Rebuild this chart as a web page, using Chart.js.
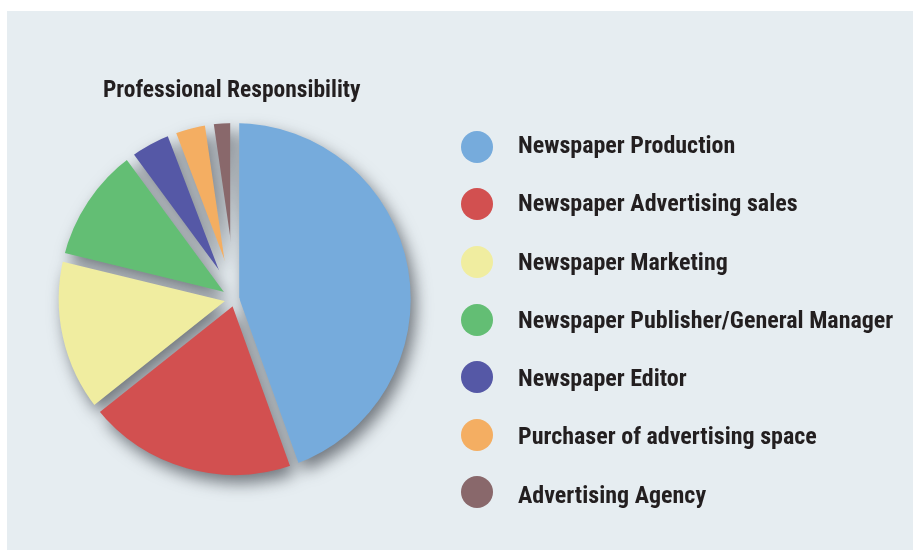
<!DOCTYPE html>
<html>
<head>
<meta charset="utf-8">
<title>Professional Responsibility</title>
<script src="https://cdn.jsdelivr.net/npm/chart.js@4.4.1/dist/chart.umd.min.js"></script>
<style>
    body { margin: 0; background: #ffffff; }
    #wrap { position: relative; width: 913px; height: 550px; overflow: hidden; }
    #pie { position: absolute; left: 0; top: 0; }
    .txt {
        position: absolute;
        font-family: Roboto, 'Open Sans', sans-serif;
        font-weight: 700;
        font-stretch: 75%;
        color: #231f20;
        white-space: nowrap;
    }
    #title { left: 103px; top: 77.5px; font-size: 23.5px; line-height: 23.5px; }
    .legend-item { font-size: 24px; line-height: 24px; left: 518px; }
    .dot { position: absolute; width: 32px; height: 32px; border-radius: 50%; left: 461px; }
</style>
</head>
<body>
<div id="wrap">
    <canvas id="pie" width="913" height="550"></canvas>
    <div id="title" class="txt">Professional Responsibility</div>
    <div id="legend"></div>
</div>
<script>
// share of respondents by professional responsibility (%)
const categories = [
    'Newspaper Production',
    'Newspaper Advertising sales',
    'Newspaper Marketing',
    'Newspaper Publisher/General Manager',
    'Newspaper Editor',
    'Purchaser of advertising space',
    'Advertising Agency'
];
const shares = [44.5, 19.8, 14.5, 11.1, 4.3, 3.5, 2.3];
const sliceColors = ['#76abdc', '#d25050', '#f0eda0', '#63be74', '#5558a6', '#f4ae62', '#89686b'];

const PANEL = '#e6edf1';
const GAP = 9; // width of the channel between slices

// light panel behind everything
const panelBg = {
    id: 'panelBg',
    beforeDraw(chart) {
        const ctx = chart.ctx;
        ctx.save();
        ctx.fillStyle = PANEL;
        ctx.fillRect(7, 11, chart.width - 7, chart.height - 11);
        ctx.restore();
    }
};

// draw slices on a scratch canvas, cut the gaps out, then paste with a drop shadow
const splitPie = {
    id: 'splitPie',
    beforeDatasetsDraw(chart) {
        const meta = chart.getDatasetMeta(0);
        const dpr = chart.currentDevicePixelRatio;
        const off = document.createElement('canvas');
        off.width = chart.canvas.width;
        off.height = chart.canvas.height;
        const octx = off.getContext('2d');
        octx.scale(dpr, dpr);
        meta.data.forEach(arc => arc.draw(octx));

        octx.globalCompositeOperation = 'destination-out';
        octx.lineWidth = GAP;
        octx.lineCap = 'round';
        meta.data.forEach(arc => {
            const a = arc.startAngle;
            const r = arc.outerRadius + 20;
            octx.beginPath();
            octx.moveTo(arc.x, arc.y);
            octx.lineTo(arc.x + Math.cos(a) * r, arc.y + Math.sin(a) * r);
            octx.stroke();
        });

        const ctx = chart.ctx;
        ctx.save();
        ctx.shadowColor = 'rgba(35, 40, 48, 0.6)';
        ctx.shadowBlur = 16;
        ctx.shadowOffsetX = 5;
        ctx.shadowOffsetY = 8;
        ctx.drawImage(off, 0, 0, chart.width, chart.height);
        ctx.restore();
        return false;
    }
};

new Chart(document.getElementById('pie'), {
    type: 'pie',
    data: {
        labels: categories,
        datasets: [{
            data: shares,
            backgroundColor: sliceColors,
            borderWidth: 0
        }]
    },
    options: {
        responsive: false,
        animation: false,
        layout: {
            padding: { left: 58.7, right: 502.3, top: 123, bottom: 75 }
        },
        plugins: {
            legend: { display: false },
            title: { display: false },
            tooltip: { enabled: false }
        }
    },
    plugins: [panelBg, splitPie]
});

// legend column on the right
const legendBox = document.getElementById('legend');
categories.forEach((name, i) => {
    const dotY = 146.7 + i * 57.6;
    const dot = document.createElement('div');
    dot.className = 'dot';
    dot.style.top = (dotY - 16) + 'px';
    dot.style.background = sliceColors[i];
    legendBox.appendChild(dot);

    const textY = 146.7 + i * 58.25;
    const label = document.createElement('div');
    label.className = 'txt legend-item';
    label.style.top = (textY - 13.6) + 'px';
    label.textContent = name;
    legendBox.appendChild(label);
});
</script>
</body>
</html>
